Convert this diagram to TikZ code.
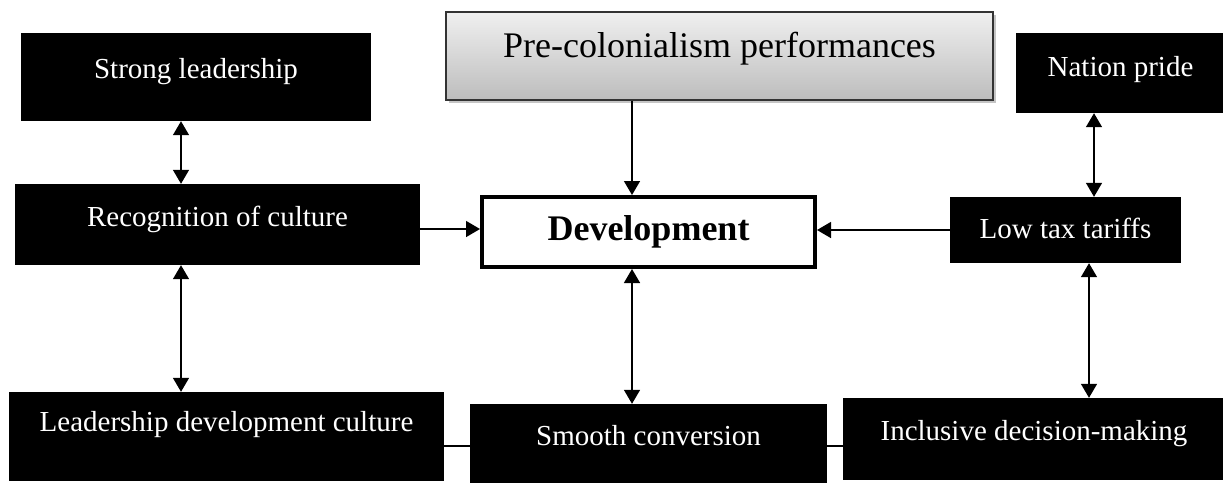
\documentclass[tikz,border=0pt]{standalone}
\usepackage{fontspec}
\setmainfont{Liberation Serif}
\usetikzlibrary{arrows.meta, shadows}

\tikzset{
  blackbox/.style={fill=black, text=white, inner sep=0pt, font=\fontsize{29}{34}\selectfont},
  raise/.style={text height=20pt, text depth=#1},
  link/.style={line width=1.5pt},
  into/.style={link, -{Triangle[length=14pt,width=16pt]}},
  both/.style={link, {Triangle[length=14pt,width=16pt]}-{Triangle[length=14pt,width=16pt]}},
}

\begin{document}
\begin{tikzpicture}[x=1pt, y=-1pt]
    \useasboundingbox (0,0) rectangle (1223,483);

    % boxes
    \node[blackbox, raise=18pt, minimum width=350pt, minimum height=88pt] (strong) at (196,77) {Strong leadership};
    \node[blackbox, raise=17pt, minimum width=405pt, minimum height=81pt] (recog) at (217.5,224.5) {Recognition of culture};
    \node[blackbox, raise=31pt, minimum width=435pt, minimum height=89pt] (ldc) at (226.5,436.5) {Leadership development culture};
    \node[draw=black!80, line width=1.2pt, top color=black!6, bottom color=black!26,
          drop shadow={shadow xshift=3pt, shadow yshift=-3pt, fill=black!45},
          inner sep=0pt, text height=26pt, text depth=24pt, font=\fontsize{36}{42}\selectfont,
          minimum width=547pt, minimum height=88pt] (pre) at (719.5,56) {Pre-colonialism performances};
    \node[draw, fill=white, line width=4pt, inner sep=0pt, font=\fontsize{36}{42}\selectfont\bfseries,
          minimum width=333pt, minimum height=70pt] (dev) at (648.5,232) {Development};
    \node[blackbox, raise=17pt, minimum width=357pt, minimum height=79pt] (smooth) at (648.5,443.5) {Smooth conversion};
    \node[blackbox, raise=14pt, minimum width=209pt, minimum height=80pt] (nation) at (1120.5,73) {Nation pride};
    \node[blackbox, raise=4pt, minimum width=231pt, minimum height=66pt] (lowtax) at (1065.5,230) {Low tax tariffs};
    \node[blackbox, raise=18pt, minimum width=382pt, minimum height=82pt] (incl) at (1034,439) {Inclusive decision-making};

    % connectors
    \coordinate (lcol) at (181,0);
    \coordinate (ccol) at (632,0);
    \coordinate (rcol) at (1094,0);
    \coordinate (rcol2) at (1089,0);
    \coordinate (brow) at (0,446);

    \draw[both] (strong.south -| lcol) -- (recog.north -| lcol);
    \draw[both] (recog.south -| lcol) -- (ldc.north -| lcol);
    \draw[into] (pre.south -| ccol) -- (dev.north -| ccol);
    \draw[both] (dev.south -| ccol) -- (smooth.north -| ccol);
    \draw[into] ([yshift=-4.5pt]recog.east) -- ([yshift=-4.5pt]recog.east -| dev.west);
    \draw[into] (lowtax.west) -- (lowtax.west -| dev.east);
    \draw[both] (nation.south -| rcol) -- (lowtax.north -| rcol);
    \draw[both] (lowtax.south -| rcol2) -- (incl.north -| rcol2);
    \draw[link] (ldc.east |- brow) -- (smooth.west |- brow);
    \draw[link] (smooth.east |- brow) -- (incl.west |- brow);
\end{tikzpicture}
\end{document}
